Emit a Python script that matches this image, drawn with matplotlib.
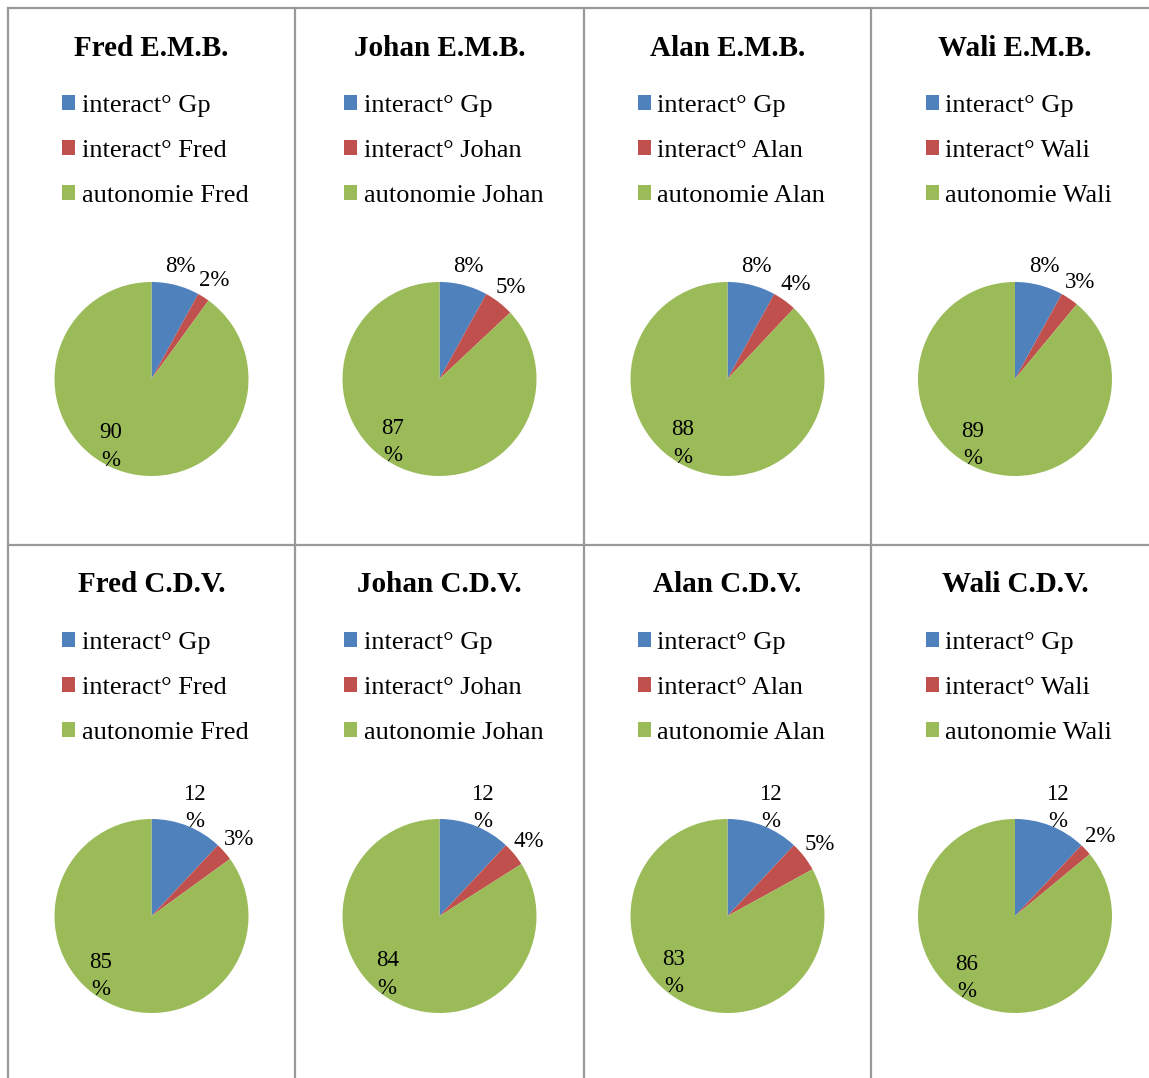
import numpy as np
import matplotlib
matplotlib.use("Agg")
import matplotlib.pyplot as plt
from matplotlib.lines import Line2D

plt.rcParams['font.family'] = ['Liberation Serif', 'DejaVu Serif']

# data
people = ["Fred", "Johan", "Alan", "Wali"]
emb_gp = [8, 8, 8, 8]
emb_self = [2, 5, 4, 3]
emb_auto = [90, 87, 88, 89]
cdv_gp = [12, 12, 12, 12]
cdv_self = [3, 4, 5, 2]
cdv_auto = [85, 84, 83, 86]
rows = [("E.M.B.", emb_gp, emb_self, emb_auto),
        ("C.D.V.", cdv_gp, cdv_self, cdv_auto)]

colors = ["#4F81BD", "#C0504D", "#9BBB59"]

W, H = 1149, 1078
fig = plt.figure(figsize=(W / 100, H / 100), dpi=100)


def fx(x):
    return x / W


def fy(y):
    return 1 - y / H


# table grid (pixels)
col_edges = [8, 295, 584, 871, 1159]
row_tops = [8, 545]
grid_col = "#999999"
for y in row_tops:
    fig.add_artist(Line2D([fx(8), fx(W)], [fy(y), fy(y)], color=grid_col, lw=1.6))
for x in col_edges[:4]:
    fig.add_artist(Line2D([fx(x), fx(x)], [fy(8), fy(H)], color=grid_col, lw=1.6))

R = 97  # pie radius in px
for r, (tag, gp, selfv, auto) in enumerate(rows):
    top = row_tops[r]
    for c, name in enumerate(people):
        cx = (col_edges[c] + col_edges[c + 1]) / 2
        vals = [gp[c], selfv[c], auto[c]]
        labels = ["interact° Gp", "interact° " + name, "autonomie " + name]

        fig.text(fx(cx), fy(top + 40), name + " " + tag, ha="center", va="center",
                 fontsize=21, fontweight="bold")

        half = 1.25 * R
        pcy = top + 371
        ax = fig.add_axes([fx(cx - half), fy(pcy + half), 2 * half / W, 2 * half / H])
        wedges, _ = ax.pie(vals, colors=colors, startangle=90, counterclock=False,
                           wedgeprops=dict(linewidth=0))
        ax.set_xlim(-1.25, 1.25)
        ax.set_ylim(-1.25, 1.25)
        ax.axis("off")

        for w, v in zip(wedges, vals):
            mid = (w.theta1 + w.theta2) / 2
            if v > 50:
                ang, dist = np.radians(mid - 13), 0.81
            else:
                ang, dist = np.radians(mid), 1.2
            txt = f"{v}%" if v < 10 else f"{v}\n%"
            ax.text(dist * np.cos(ang), dist * np.sin(ang), txt, ha="center", va="center",
                    fontsize=16.5, linespacing=1.4, clip_on=False)

        fig.legend(wedges, labels, loc="upper center",
                   bbox_to_anchor=(fx(cx + 4), fy(top + 87)),
                   frameon=False, fontsize=19, handlelength=0.5, handleheight=0.5,
                   handletextpad=0.25, labelspacing=0.87, borderpad=0, borderaxespad=0)

fig.savefig("out.png", dpi=100)
